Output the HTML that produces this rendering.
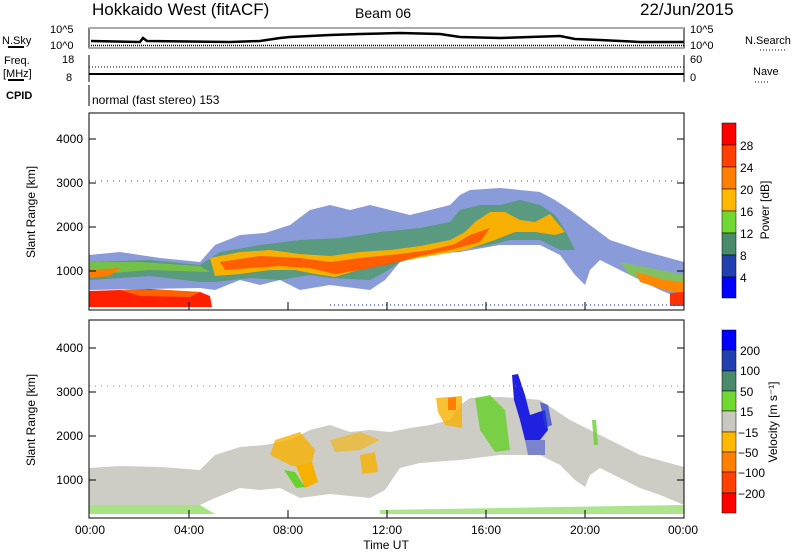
<!DOCTYPE html>
<html><head><meta charset="utf-8"><style>
body{margin:0;background:#fff}
svg{display:block}
text{font-family:"Liberation Sans",sans-serif;fill:#000}
</style></head><body>
<svg width="800" height="554" viewBox="0 0 800 554" xmlns="http://www.w3.org/2000/svg">
<!-- header -->
<text x="92" y="15" font-size="17">Hokkaido West (fitACF)</text>
<text x="355" y="18" font-size="14">Beam 06</text>
<text x="640" y="15" font-size="17">22/Jun/2015</text>
<!-- N.Sky panel -->
<rect x="89" y="28" width="595" height="20" fill="none" stroke="#000"/>
<rect x="89" y="27" width="595" height="2" fill="#aaa"/>
<rect x="89" y="47" width="595" height="2" fill="#aaa"/>
<text x="2" y="44" font-size="11">N.Sky</text><line x1="8" y1="47" x2="24" y2="47" stroke="#000" stroke-width="2"/>
<text x="50" y="33" font-size="11">10^5</text><text x="50" y="49" font-size="11">10^0</text>
<text x="690" y="33" font-size="11">10^5</text><text x="690" y="49" font-size="11">10^0</text>
<text x="745" y="44" font-size="11">N.Search</text>
<line x1="760" y1="50" x2="785" y2="50" stroke="#000" stroke-dasharray="1,2"/>
<polyline fill="none" stroke="#000" stroke-width="2.5" points="91,41 140,42 143,38 147,41 230,42 260,41 280,38 290,37 330,35 360,34 400,33 440,34 460,37 500,38 530,37 560,36 575,39 600,40 640,42 684,42"/>
<polyline fill="none" stroke="#000" stroke-dasharray="1,1" stroke-width="1.5" points="91,45.5 684,45.5"/>
<!-- Freq panel -->
<line x1="89" y1="55" x2="89" y2="82" stroke="#000"/><line x1="684" y1="55" x2="684" y2="82" stroke="#000"/>
<text x="4" y="64" font-size="11">Freq.</text><text x="3" y="77" font-size="11">[MHz]</text>
<line x1="8" y1="80" x2="24" y2="80" stroke="#000" stroke-width="2"/>
<text x="62" y="63" font-size="11">18</text><text x="66" y="81" font-size="11">8</text>
<text x="690" y="63" font-size="11">60</text><text x="690" y="81" font-size="11">0</text>
<text x="753" y="75" font-size="11">Nave</text>
<line x1="755" y1="82" x2="770" y2="82" stroke="#000" stroke-dasharray="1,2"/>
<line x1="89" y1="67" x2="684" y2="67" stroke="#000" stroke-dasharray="1,2"/>
<line x1="89" y1="74" x2="684" y2="74" stroke="#000" stroke-width="2"/>
<text x="6" y="99" font-size="11" font-weight="bold">CPID</text>
<line x1="89" y1="85" x2="89" y2="106" stroke="#000"/>
<text x="92" y="104" font-size="12">normal (fast stereo) 153</text>

<!-- Power panel -->
<g>
<polygon fill="#2848b8" opacity="0.55" points="89,255 120,252 160,258 200,262 215,245 240,235 265,233 290,225 310,210 330,205 350,210 370,205 390,210 410,215 430,210 450,205 460,195 470,190 500,188 520,190 540,192 555,200 570,210 590,225 610,240 640,250 684,262 684,300 660,290 640,280 620,270 600,260 590,270 585,285 575,275 560,255 540,245 500,245 460,252 420,255 400,262 385,280 370,290 330,285 300,290 280,280 260,285 240,280 215,290 200,288 89,290"/>
<polygon fill="#4f9a6a" opacity="0.8" points="89,262 150,260 200,265 220,252 260,245 300,240 340,238 380,232 420,228 450,222 460,210 480,205 500,205 520,200 540,205 555,215 565,230 575,250 560,250 540,240 510,240 490,245 460,250 430,255 400,262 385,272 370,280 330,278 310,275 280,280 250,278 215,282 200,282 150,276 89,280"/>
<polygon fill="#80d030" opacity="0.7" points="89,262 140,262 200,266 210,272 150,270 89,275"/>
<polygon fill="#80d030" opacity="0.7" points="620,262 660,270 684,275 684,288 660,285 630,275"/>
<polygon fill="#f8b000" points="210,258 240,252 270,250 300,254 330,256 360,252 390,250 420,246 450,240 465,232 475,222 490,212 505,212 520,220 535,222 550,214 565,232 555,235 535,232 515,232 495,240 465,250 430,256 395,262 365,268 335,277 315,274 295,270 270,270 240,274 215,276"/>
<polygon fill="#ff5000" opacity="0.85" points="220,262 260,256 300,258 330,262 360,258 400,254 430,250 455,244 470,235 490,228 480,242 450,250 420,256 390,264 360,270 335,274 310,268 280,266 250,268 225,270"/>
<polygon fill="#ff8800" points="636,272 665,280 684,282 684,294 665,290 640,282"/>
<polygon fill="#ff7a00" points="89,270 120,268 110,276 89,278"/>
<polygon fill="#ff2000" points="89,291 150,289 200,292 210,296 212,307 89,307"/>
<polygon fill="#ff8000" opacity="0.7" points="120,290 170,290 200,292 190,297 140,296"/>
<polygon fill="#ff3000" points="670,293 684,292 684,306 670,306"/>
<line x1="89" y1="181" x2="684" y2="181" stroke="#2848b8" stroke-dasharray="1,5"/>
<line x1="330" y1="305" x2="684" y2="305" stroke="#2848b8" stroke-dasharray="1,3" stroke-width="2" opacity="0.6"/>
</g>
<rect x="89" y="113" width="595" height="197" fill="none" stroke="#000"/>

<!-- Velocity panel -->
<g>
<polygon fill="#c8c8c0" opacity="0.9" points="89,468 120,466 160,467 200,470 215,455 240,447 265,445 290,440 310,430 330,425 350,432 370,430 390,432 410,428 430,425 450,420 460,405 470,398 500,397 520,398 540,400 555,410 570,420 590,430 610,440 640,455 684,467 684,505 660,495 640,488 620,478 600,468 590,475 585,487 575,480 560,465 540,455 500,455 460,460 420,463 400,468 385,490 370,498 330,494 300,498 280,488 260,490 240,488 215,498 200,505 89,505"/>
<polygon fill="#f8b000" opacity="0.8" points="275,440 300,432 315,450 310,470 290,465 270,455"/>
<polygon fill="#f8b000" points="296,466 312,462 318,482 305,488"/>
<polygon fill="#f8b000" opacity="0.8" points="360,455 375,452 378,472 362,474"/>
<polygon fill="#f8b000" opacity="0.8" points="436,398 462,396 462,428 445,425 438,412"/>
<polygon fill="#ff8000" points="448,398 456,397 456,410 448,410"/>
<polygon fill="#f8b000" opacity="0.6" points="330,440 360,432 380,440 360,450 335,452"/>
<polygon fill="#6ad030" points="284,470 295,472 305,487 296,488"/>
<polygon fill="#6ad030" opacity="0.85" points="475,398 490,395 505,410 510,450 495,452 480,430"/>
<polygon fill="#2020e0" points="512,375 518,374 525,395 530,415 545,410 548,430 540,440 525,440 520,420 514,400"/>
<polygon fill="#2a3cd0" opacity="0.7" points="540,402 548,405 552,425 545,428"/>
<polygon fill="#2a3cd0" opacity="0.5" points="525,440 545,440 545,455 528,455"/>
<polygon fill="#6ad030" opacity="0.6" points="89,505 200,505 215,514 89,514"/>
<polygon fill="#6ad030" opacity="0.55" points="380,510 684,505 684,514 380,514"/>
<polygon fill="#6ad030" opacity="0.8" points="592,420 596,420 598,445 594,445"/>
<line x1="89" y1="386" x2="684" y2="386" stroke="#888" stroke-dasharray="1,5"/>
</g>
<rect x="89" y="320" width="595" height="198" fill="none" stroke="#000"/>

<!-- y labels -->
<g font-size="12" text-anchor="end">
<text x="83" y="143">4000</text><text x="83" y="187">3000</text><text x="83" y="231">2000</text><text x="83" y="275">1000</text>
<text x="83" y="352">4000</text><text x="83" y="396">3000</text><text x="83" y="440">2000</text><text x="83" y="484">1000</text>
</g>
<text transform="translate(35,212) rotate(-90)" font-size="12" text-anchor="middle">Slant Range [km]</text>
<text transform="translate(35,420) rotate(-90)" font-size="12" text-anchor="middle">Slant Range [km]</text>
<g stroke="#000">
<line x1="89" y1="139" x2="96" y2="139"/><line x1="89" y1="183" x2="96" y2="183"/><line x1="89" y1="227" x2="96" y2="227"/><line x1="89" y1="271" x2="96" y2="271"/>
<line x1="89" y1="348" x2="96" y2="348"/><line x1="89" y1="392" x2="96" y2="392"/><line x1="89" y1="436" x2="96" y2="436"/><line x1="89" y1="480" x2="96" y2="480"/>
<line x1="684" y1="139" x2="677" y2="139"/><line x1="684" y1="183" x2="677" y2="183"/><line x1="684" y1="227" x2="677" y2="227"/><line x1="684" y1="271" x2="677" y2="271"/>
<line x1="684" y1="348" x2="677" y2="348"/><line x1="684" y1="392" x2="677" y2="392"/><line x1="684" y1="436" x2="677" y2="436"/><line x1="684" y1="480" x2="677" y2="480"/>
</g>
<!-- x labels -->
<g font-size="12" text-anchor="middle">
<text x="90" y="534">00:00</text><text x="189" y="534">04:00</text><text x="288" y="534">08:00</text><text x="387" y="534">12:00</text><text x="486" y="534">16:00</text><text x="585" y="534">20:00</text><text x="683" y="534">00:00</text>
<text x="386" y="549">Time UT</text>
</g>
<g stroke="#000">
<line x1="189" y1="518" x2="189" y2="510"/><line x1="288" y1="518" x2="288" y2="510"/><line x1="387" y1="518" x2="387" y2="510"/><line x1="486" y1="518" x2="486" y2="510"/><line x1="585" y1="518" x2="585" y2="510"/>
<line x1="189" y1="310" x2="189" y2="302"/><line x1="288" y1="310" x2="288" y2="302"/><line x1="387" y1="310" x2="387" y2="302"/><line x1="486" y1="310" x2="486" y2="302"/><line x1="585" y1="310" x2="585" y2="302"/>
</g>

<!-- power colorbar -->
<g stroke="#000" stroke-width="0.5">
<rect x="722" y="123" width="14" height="22" fill="#ff0000"/>
<rect x="722" y="145" width="14" height="22" fill="#ff4000"/>
<rect x="722" y="167" width="14" height="22" fill="#ff8000"/>
<rect x="722" y="189" width="14" height="22" fill="#ffb800"/>
<rect x="722" y="211" width="14" height="22" fill="#70d830"/>
<rect x="722" y="233" width="14" height="22" fill="#488a6a"/>
<rect x="722" y="255" width="14" height="22" fill="#2040b0"/>
<rect x="722" y="277" width="14" height="21" fill="#0000ff"/>
</g>
<g font-size="12"><text x="740" y="150">28</text><text x="740" y="172">24</text><text x="740" y="194">20</text><text x="740" y="216">16</text><text x="740" y="238">12</text><text x="740" y="260">8</text><text x="740" y="282">4</text></g>
<text transform="translate(769,210) rotate(-90)" font-size="12" text-anchor="middle">Power [dB]</text>
<!-- velocity colorbar -->
<g stroke="#000" stroke-width="0.5">
<rect x="722" y="330" width="14" height="20" fill="#0000ff"/>
<rect x="722" y="350" width="14" height="21" fill="#2040b0"/>
<rect x="722" y="371" width="14" height="20" fill="#488a6a"/>
<rect x="722" y="391" width="14" height="20" fill="#70d830"/>
<rect x="722" y="411" width="14" height="21" fill="#c8c8c0"/>
<rect x="722" y="432" width="14" height="20" fill="#ffb800"/>
<rect x="722" y="452" width="14" height="20" fill="#ff8000"/>
<rect x="722" y="472" width="14" height="21" fill="#ff4000"/>
<rect x="722" y="493" width="14" height="20" fill="#ff0000"/>
</g>
<g font-size="12"><text x="740" y="355">200</text><text x="740" y="375">100</text><text x="740" y="396">50</text><text x="740" y="416">15</text><text x="738" y="437">−15</text><text x="738" y="457">−50</text><text x="738" y="477">−100</text><text x="738" y="498">−200</text></g>
<text transform="translate(777,422) rotate(-90)" font-size="12" text-anchor="middle">Velocity [m s⁻¹]</text>
</svg>
</body></html>
